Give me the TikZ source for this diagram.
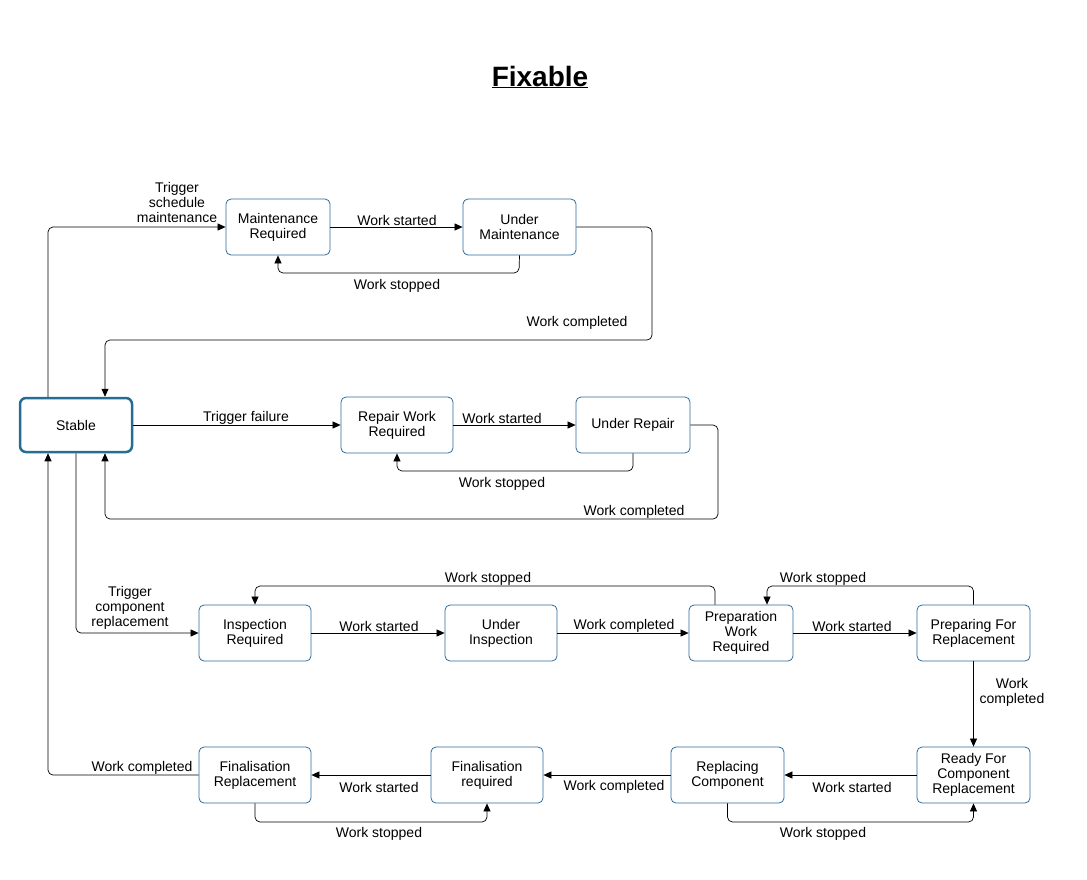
\documentclass[tikz,border=0pt]{standalone}
\usepackage{fontspec}
\setmainfont{Liberation Sans}
\usetikzlibrary{arrows.meta}
\definecolor{bx}{HTML}{2E6C9A}
\definecolor{sb}{HTML}{266D93}
\begin{document}
\begin{tikzpicture}[x=1pt,y=-1pt,
  st/.style={draw=bx,line width=0.8pt,rounded corners=5pt,minimum width=112pt,minimum height=56pt,align=center,inner sep=1pt,font=\fontsize{14}{15}\selectfont},
  ar/.style={-{Triangle[length=8pt,width=7pt]},line width=0.7pt,rounded corners=5pt},
  lb/.style={font=\fontsize{14}{15}\selectfont,align=center,inner sep=1pt}]
\useasboundingbox (0,0) rectangle (1087,879);
\node[font=\fontsize{28}{30}\selectfont\bfseries] (title) at (540,77) {\underline{Fixable}};
\node[st,draw=sb,line width=2.5pt,minimum width=112pt,minimum height=54pt,rounded corners=6pt] (s) at (76,425) {Stable};
\node[st,minimum width=104pt] (mr) at (278,227) {Maintenance\\Required};
\node[st,minimum width=113pt] (um) at (519.5,227) {Under\\Maintenance};
\node[st] (rwr) at (397,425) {Repair Work\\Required};
\node[st,minimum width=114pt] (ur) at (633,425) {Under Repair};
\node[st] (ir) at (255,633) {Inspection\\Required};
\node[st] (ui) at (501,633) {Under\\Inspection};
\node[st,minimum width=104pt] (pwr) at (741,633) {Preparation\\Work\\Required};
\node[st,minimum width=113pt] (pfr) at (973.5,633) {Preparing For\\Replacement};
\node[st,minimum width=113pt] (rfc) at (973.5,775) {Ready For\\Component\\Replacement};
\node[st,minimum width=113pt] (rc) at (727.5,775) {Replacing\\Component};
\node[st] (fr) at (487,775) {Finalisation\\required};
\node[st] (frp) at (255,775) {Finalisation\\Replacement};

\draw[ar] (s.north -| 48,0) |- (mr.west);
\node[lb] at (177,202) {Trigger\\schedule\\maintenance};
\draw[ar] (mr) -- (um); \node[lb] at (397,220) {Work started};
\draw[ar] (um.south) -- (519,273) -| (mr.south); \node[lb] at (397,286) {Work stopped};
\draw[ar] (um.east) -- (652,227) -- (652,340) -- (105,340) -- (s.north -| 105,0);
\node[lb] at (577,323) {Work completed};
\draw[ar] (s) -- (rwr); \node[lb] at (246,418) {Trigger failure};
\draw[ar] (rwr) -- (ur); \node[lb] at (502,418) {Work started};
\draw[ar] (ur.south) -- (633,471) -| (rwr.south); \node[lb] at (502,484) {Work stopped};
\draw[ar] (ur.east) -- (718,425) -- (718,519) -- (105,519) -- (s.south -| 105,0);
\node[lb] at (634,512) {Work completed};
\draw[ar] (s.south) |- (ir.west); \node[lb] at (130,608) {Trigger\\component\\replacement};
\draw[ar] (ir) -- (ui); \node[lb] at (379,626) {Work started};
\draw[ar] (ui) -- (pwr); \node[lb] at (624,626) {Work completed};
\draw[ar] (pwr.north -| 715,0) -- (715,586) -| (ir.north); \node[lb] at (488,579) {Work stopped};
\draw[ar] (pwr) -- (pfr); \node[lb] at (852,626) {Work started};
\draw[ar] (pfr.north) -- (973.5,586) -| (pwr.north -| 767,0); \node[lb] at (823,579) {Work stopped};
\draw[ar] (pfr) -- (rfc); \node[lb] at (1012,692) {Work\\completed};
\draw[ar] (rfc) -- (rc); \node[lb] at (852,787) {Work started};
\draw[ar] (rc.south) -- (727.5,822) -| (rfc.south); \node[lb] at (823,834) {Work stopped};
\draw[ar] (rc) -- (fr); \node[lb] at (614,787) {Work completed};
\draw[ar] (fr) -- (frp); \node[lb] at (379,787) {Work started};
\draw[ar] (frp.south) -- (255,822) -| (fr.south); \node[lb] at (379,834) {Work stopped};
\draw[ar] (frp.west) -- (48,775) -- (s.south -| 48,0); \node[lb] at (142,768) {Work completed};
\end{tikzpicture}
\end{document}
